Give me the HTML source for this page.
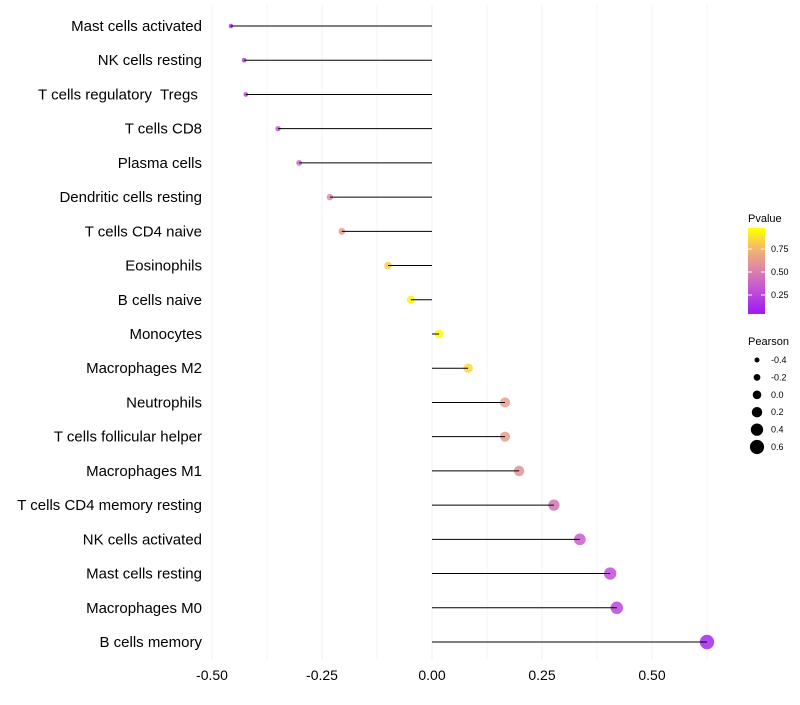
<!DOCTYPE html>
<html><head><meta charset="utf-8"><style>
body{margin:0;background:#fff;font-family:"Liberation Sans",sans-serif}
</style></head><body>
<svg id="c" width="800" height="700" xmlns="http://www.w3.org/2000/svg" font-family="Liberation Sans, sans-serif"></svg>
<script>
const categories=["Mast cells activated","NK cells resting","T cells regulatory  Tregs ","T cells CD8","Plasma cells","Dendritic cells resting","T cells CD4 naive","Eosinophils","B cells naive","Monocytes","Macrophages M2","Neutrophils","T cells follicular helper","Macrophages M1","T cells CD4 memory resting","NK cells activated","Mast cells resting","Macrophages M0","B cells memory"];
const pearson=[-0.457,-0.427,-0.423,-0.35,-0.302,-0.232,-0.205,-0.1,-0.048,0.016,0.082,0.166,0.166,0.198,0.277,0.336,0.405,0.42,0.625];
const pvalues=[0.08,0.15,0.16,0.3,0.38,0.55,0.62,0.85,0.96,0.99,0.88,0.65,0.65,0.58,0.42,0.32,0.24,0.2,0.04];
const xTicks=[-0.5,-0.25,0,0.25,0.5];
const xTickLabels=["-0.50","-0.25","0.00","0.25","0.50"];
const pTicks=[0.25,0.5,0.75];
const sizeTicks=[-0.4,-0.2,0.0,0.2,0.4,0.6];
const sizeTickLabels=["-0.4","-0.2","0.0","0.2","0.4","0.6"];
const svg=document.getElementById('c');const NS="http://www.w3.org/2000/svg";
function mk(t,a,p){const e=document.createElementNS(NS,t);for(const k in a)e.setAttribute(k,a[k]);(p||svg).appendChild(e);return e;}
const x=v=>432+v*440;
const y=i=>26+i*(642-26)/18;
const rad=v=>2.2+(v+0.46)*4.6;
const stops=[[0,[160,32,240]],[0.3,[200,90,210]],[0.55,[225,140,160]],[0.8,[245,190,100]],[1,[255,255,0]]];
function col(p){for(let i=1;i<stops.length;i++){if(p<=stops[i][0]){const a=stops[i-1],b=stops[i];const t=(p-a[0])/(b[0]-a[0]);const c=a[1].map((v,j)=>Math.round(v+(b[1][j]-v)*t));return `rgb(${c})`;}}return 'rgb(255,255,0)';}
for(let v=-0.5;v<=0.626;v+=0.125){const g=mk('line',{x1:x(v),x2:x(v),y1:5,y2:660,stroke:'#f0f0f0','stroke-width':Math.abs((v*4)%1)<0.01?1:0.6});
}
xTicks.forEach((v,i)=>{const t=mk('text',{x:x(v),y:680,'text-anchor':'middle','font-size':14,fill:'#000'});t.textContent=xTickLabels[i];
});
categories.forEach((c,i)=>{
const t=mk('text',{x:202,y:y(i)+5,'text-anchor':'end','font-size':15,fill:'#000',style:'white-space:pre'});t.textContent=c;

const d=mk('circle',{cx:x(pearson[i]),cy:y(i),r:rad(pearson[i]),fill:col(pvalues[i]),'fill-opacity':0.85});

const l=mk('line',{x1:x(0),x2:x(pearson[i]),y1:y(i),y2:y(i),stroke:'#000','stroke-width':1});

});
const lt=mk('text',{x:748,y:222,'font-size':11});lt.textContent='Pvalue';

const defs=mk('defs',{});const gr=mk('linearGradient',{id:'pg',x1:0,y1:1,x2:0,y2:0},defs);
stops.forEach(s=>mk('stop',{offset:(0.04+s[0]*0.94).toFixed(3),'stop-color':col(s[0])},gr));
const cb=mk('rect',{x:748,y:228,width:17,height:86,fill:'url(#pg)'});

const py=p=>318-p*92;
pTicks.forEach(p=>{mk('line',{x1:748,x2:752,y1:py(p),y2:py(p),stroke:'#fff'});mk('line',{x1:761,x2:765,y1:py(p),y2:py(p),stroke:'#fff'});
const t=mk('text',{x:771,y:py(p)+3,'font-size':9});t.textContent=p.toFixed(2);
});
const st=mk('text',{x:748,y:345,'font-size':11});st.textContent='Pearson';

sizeTicks.forEach((v,i)=>{const cy=360+i*17.4;
const c=mk('circle',{cx:757,cy:cy,r:rad(v),fill:'#000'});

const t=mk('text',{x:771,y:cy+3,'font-size':9});t.textContent=sizeTickLabels[i];
});
</script>
</body></html>
